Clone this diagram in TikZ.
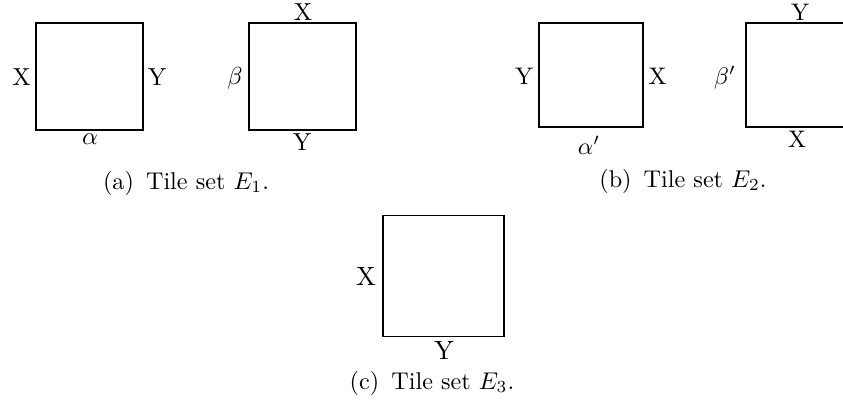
\documentclass[tikz,border=0pt]{standalone}
\begin{document}
\begin{tikzpicture}[x=0.4545pt,y=-0.4545pt,
  tile/.style={draw,line width=0.85pt,inner sep=0pt,outer sep=0pt,minimum width=#1*0.4545pt,minimum height=#1*0.4545pt},
  lbla/.style={inner sep=0pt,scale=1.12},
  lblb/.style={inner sep=0pt,scale=1.09},
  lblc/.style={inner sep=0pt,scale=1.2},
  capt/.style={inner sep=0pt,anchor=base,scale=1.1}]
\clip (0,0) rectangle (843,410);
% (a)
\node[tile=107] (t1) at (89.5,76.5) {};
\node[lbla] (t1l) at (21.5,77) {X};
\node[lbla] (t1r) at (157,77.5) {Y};
\node[lbla] (t1b) at (90,139) {$\alpha$};
\node[tile=107] (t2) at (302.5,76.5) {};
\node[lbla] (t2t) at (303,12.5) {X};
\node[lbla] (t2l) at (235,78) {$\beta$};
\node[lbla] (t2b) at (302,142.5) {Y};
\node[capt] (ca) at (186,189) {(a)\enspace Tile set $E_1$.};
% (b)
\node[tile=104] (t3) at (591,75) {};
\node[lblb] (t3l) at (524,76) {Y};
\node[lblb] (t3r) at (657.5,76) {X};
\node[lblb] (t3b) at (589,145) {$\alpha'$};
\node[tile=104] (t4) at (798,75) {};
\node[lblb] (t4t) at (800,12) {Y};
\node[lblb] (t4l) at (725,77.5) {$\beta'$};
\node[lblb] (t4b) at (797,139.5) {X};
\node[capt] (cb) at (683,187) {(b)\enspace Tile set $E_2$.};
% (c)
\node[tile=121] (t5) at (443.5,276) {};
\node[lblc] (t5l) at (366,276.5) {X};
\node[lblc] (t5b) at (444,350) {Y};
\node[capt] (cc) at (432,389) {(c)\enspace Tile set $E_3$.};
\end{tikzpicture}
\end{document}
